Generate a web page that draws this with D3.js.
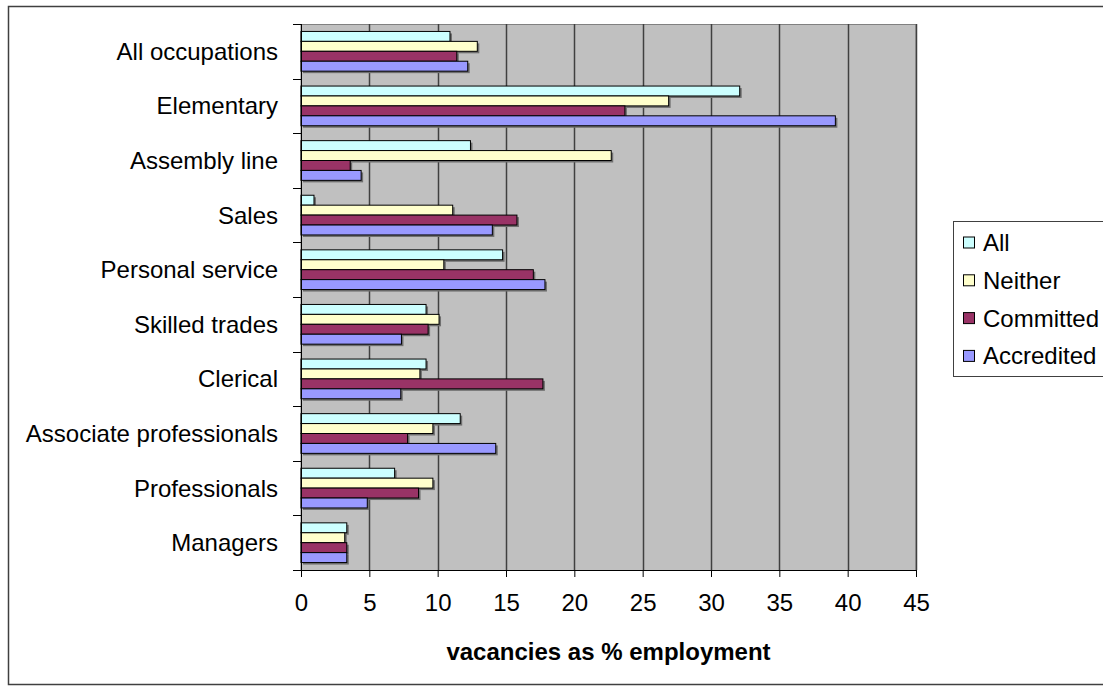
<!DOCTYPE html>
<html>
<head>
<meta charset="utf-8">
<script src="https://cdn.jsdelivr.net/npm/d3@7"></script>
<style>
  body { margin: 0; background: #fff; }
  text { font-family: "Liberation Sans", Arial, sans-serif; fill: #000; }
</style>
</head>
<body>
<div class="wrapper"></div>
<script>
var categories = ["All occupations", "Elementary", "Assembly line", "Sales", "Personal service",
                  "Skilled trades", "Clerical", "Associate professionals", "Professionals", "Managers"];
var seriesNames = ["All", "Neither", "Committed", "Accredited"];

var allValues        = [10.9, 32.1, 12.4, 0.95, 14.75, 9.15, 9.15, 11.65, 6.85, 3.35];
var neitherValues    = [12.9, 26.9, 22.7, 11.1, 10.45, 10.1, 8.7, 9.65, 9.65, 3.2];
var committedValues  = [11.4, 23.7, 3.6, 15.8, 17.0, 9.3, 17.7, 7.8, 8.6, 3.35];
var accreditedValues = [12.2, 39.1, 4.4, 14.0, 17.85, 7.35, 7.3, 14.25, 4.85, 3.35];

var xTicks = [0, 5, 10, 15, 20, 25, 30, 35, 40, 45];
var xTitle = "vacancies as % employment";

var seriesColors = ["#ccffff", "#ffffcc", "#993366", "#9999ff"];

var width = 1103,
    height = 686,
    fontSize = "24px",
    plot = {left: 301, right: 916, top: 24, bottom: 570};

var values = [allValues, neitherValues, committedValues, accreditedValues];

var svg = d3.select(".wrapper").append("svg")
    .attr("width", width)
    .attr("height", height);

// chart frame (runs off the canvas on the right)
svg.append("rect")
    .attr("x", 8.5).attr("y", 6.5)
    .attr("width", 1200).attr("height", 678)
    .attr("fill", "#fff")
    .attr("stroke", "#404040")
    .attr("stroke-width", 1.5);

var x = d3.scaleLinear().domain([0, 45]).range([plot.left, plot.right]);

// Excel style gap width 150%: 4 bars + 1.5 bar of gap per category
var y = d3.scaleBand().domain(categories)
    .range([plot.top, plot.bottom])
    .paddingInner(1.5 / 5.5)
    .paddingOuter(0.75 / 5.5);

var ySub = d3.scaleBand().domain(seriesNames).range([0, y.bandwidth()]);

// plot background
svg.append("rect")
    .attr("x", plot.left).attr("y", plot.top + 0.5)
    .attr("width", plot.right - plot.left).attr("height", plot.bottom - plot.top)
    .attr("fill", "#c0c0c0")
    .attr("stroke", "#808080")
    .attr("stroke-width", 1);

// gridlines
svg.append("g").selectAll("line")
    .data(xTicks.slice(1))
  .enter().append("line")
    .attr("x1", function(d) { return Math.round(x(d)) + 0.5; })
    .attr("x2", function(d) { return Math.round(x(d)) + 0.5; })
    .attr("y1", plot.top).attr("y2", plot.bottom)
    .attr("stroke", "#404040")
    .attr("stroke-width", 1.5);

// bars
var groups = svg.append("g").selectAll("g")
    .data(categories)
  .enter().append("g")
    .attr("transform", function(d) { return "translate(0," + y(d) + ")"; });

groups.each(function(cat, ci) {
  var g = d3.select(this);
  seriesNames.forEach(function(s, si) {
    var v = values[si][ci];
    // shadow
    g.append("rect")
      .attr("x", x(0) + 2)
      .attr("y", ySub(s) + 2)
      .attr("width", x(v) - x(0))
      .attr("height", ySub.bandwidth())
      .attr("fill", "#6e6e6e");
    g.append("rect")
      .attr("x", x(0))
      .attr("y", ySub(s))
      .attr("width", x(v) - x(0))
      .attr("height", ySub.bandwidth())
      .attr("fill", seriesColors[si])
      .attr("stroke", "#000")
      .attr("stroke-width", 1);
  });
});

// x axis
var xAxis = d3.axisBottom(x).tickValues(xTicks).tickSize(7).tickPadding(17);
var gx = svg.append("g")
    .attr("transform", "translate(0," + plot.bottom + ")")
    .call(xAxis);
gx.select(".domain").attr("stroke", "#000").attr("d", "M" + plot.left + ",0.5H" + plot.right);
gx.selectAll(".tick line").attr("stroke", "#000");
gx.selectAll("text").style("font-size", fontSize).attr("font-family", "Liberation Sans, Arial, sans-serif");

// y axis: ticks at category boundaries
var gy = svg.append("g");
gy.append("line")
    .attr("x1", plot.left + 0.5).attr("x2", plot.left + 0.5)
    .attr("y1", plot.top).attr("y2", plot.bottom + 7)
    .attr("stroke", "#000");
var bounds = categories.map(function(d) { return y(d) - y.step() * y.paddingInner() / 2; })
    .concat([plot.bottom]);
gy.selectAll(".ytick")
    .data(bounds)
  .enter().append("line")
    .attr("x1", plot.left - 8).attr("x2", plot.left)
    .attr("y1", function(d) { return Math.round(d) + 0.5; })
    .attr("y2", function(d) { return Math.round(d) + 0.5; })
    .attr("stroke", "#000");
gy.selectAll(".ylabel")
    .data(categories)
  .enter().append("text")
    .attr("x", plot.left - 23)
    .attr("y", function(d) { return y(d) + y.bandwidth() / 2; })
    .attr("dy", "0.35em")
    .attr("text-anchor", "end")
    .style("font-size", fontSize)
    .text(function(d) { return d; });

// axis title
svg.append("text")
    .attr("x", (plot.left + plot.right) / 2)
    .attr("y", 660)
    .attr("text-anchor", "middle")
    .style("font-size", fontSize)
    .style("font-weight", "bold")
    .text(xTitle);

// legend
var legend = svg.append("g");
legend.append("rect")
    .attr("x", 953.5).attr("y", 221.5)
    .attr("width", 300).attr("height", 155)
    .attr("fill", "#fff")
    .attr("stroke", "#404040");
var items = legend.selectAll(".item")
    .data(seriesNames)
  .enter().append("g")
    .attr("transform", function(d, i) { return "translate(963," + (242.5 + i * 37.8) + ")"; });
items.append("rect")
    .attr("x", 0.5).attr("y", -5.5)
    .attr("width", 11).attr("height", 11)
    .attr("fill", function(d, i) { return seriesColors[i]; })
    .attr("stroke", "#000");
items.append("text")
    .attr("x", 20)
    .attr("dy", "0.35em")
    .style("font-size", fontSize)
    .text(function(d) { return d; });
</script>
</body>
</html>
